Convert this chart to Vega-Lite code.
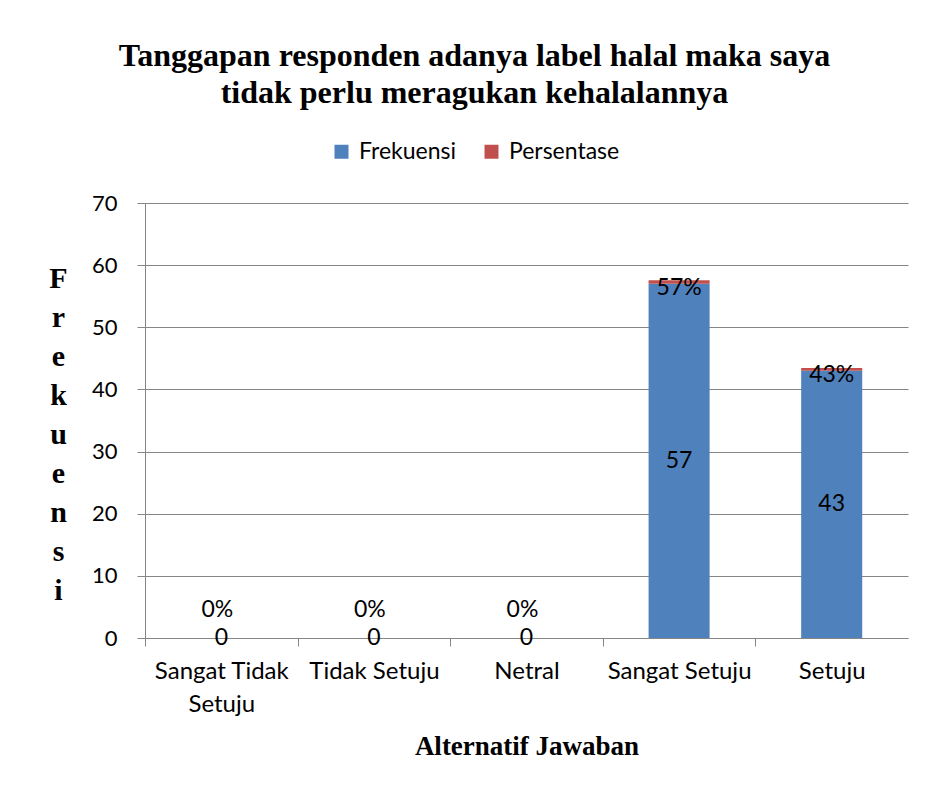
{
  "$schema": "https://vega.github.io/schema/vega-lite/v6.json",
  "width": 763,
  "height": 435,
  "autosize": {"type": "none"},
  "padding": {"left": 145, "top": 203, "right": 20, "bottom": 147},
  "background": "white",
  "title": {
    "text": ["Tanggapan responden adanya label halal maka saya", "tidak perlu meragukan kehalalannya"],
    "font": "Liberation Serif",
    "fontSize": 32,
    "fontWeight": "bold",
    "color": "black",
    "anchor": "middle",
    "frame": "group",
    "lineHeight": 37,
    "offset": 30,
    "dx": -52
  },
  "data": {
    "values": [
      {"kategori": "Sangat Tidak Setuju", "Frekuensi": 0, "Persentase": 0},
      {"kategori": "Tidak Setuju", "Frekuensi": 0, "Persentase": 0},
      {"kategori": "Netral", "Frekuensi": 0, "Persentase": 0},
      {"kategori": "Sangat Setuju", "Frekuensi": 57, "Persentase": 0.57},
      {"kategori": "Setuju", "Frekuensi": 43, "Persentase": 0.43}
    ]
  },
  "config": {
    "view": {"stroke": null},
    "font": "Lato",
    "axis": {
      "labelFont": "Lato",
      "labelFontSize": 22,
      "labelColor": "black",
      "domainColor": "#868686",
      "tickColor": "#868686",
      "gridColor": "#868686",
      "tickSize": 8
    }
  },
  "encoding": {
    "x": {
      "field": "kategori",
      "type": "nominal",
      "sort": null,
      "scale": {"paddingInner": 0.6, "paddingOuter": 0.3},
      "axis": {
        "title": "Alternatif Jawaban",
        "titleFont": "Liberation Serif",
        "titleFontSize": 27,
        "titleFontWeight": "bold",
        "titleColor": "black",
        "titleY": 108,
        "titleBaseline": "middle",
        "labelAngle": 0,
        "labelFontSize": 24,
        "ticks": true,
        "tickOffset": -76.3,
        "labelOffset": 76.3,
        "tickSize": 8,
        "tickWidth": 1,
        "tickColor": "#868686",
        "labelPadding": 13,
        "labelLineHeight": 33,
        "labelBaseline": "top",
        "labelExpr": "datum.label == 'Sangat Tidak Setuju' ? ['Sangat Tidak', 'Setuju'] : datum.label",
        "orient": "bottom"
      }
    }
  },
  "layer": [
    {
      "transform": [{"fold": ["Frekuensi", "Persentase"], "as": ["seri", "nilai"]}],
      "mark": {"type": "bar"},
      "encoding": {
        "y": {
          "field": "nilai",
          "type": "quantitative",
          "stack": "zero",
          "scale": {"domain": [0, 70]},
          "axis": {
            "title": ["F", "r", "e", "k", "u", "e", "n", "s", "i"],
            "titleFont": "Liberation Serif",
            "titleFontSize": 30,
            "titleFontWeight": "bold",
            "titleColor": "black",
            "titleAngle": 0,
            "titleAlign": "center",
            "titleBaseline": "alphabetic",
            "titleLineHeight": 39,
            "titleX": -87,
            "titleY": 84,
            "values": [0, 10, 20, 30, 40, 50, 60, 70],
            "labelPadding": 20,
            "grid": true
          }
        },
        "color": {
          "field": "seri",
          "type": "nominal",
          "scale": {"domain": ["Frekuensi", "Persentase"], "range": ["#4F81BD", "#C0504D"]},
          "legend": {
            "title": null,
            "orient": "none",
            "direction": "horizontal",
            "legendX": 185,
            "legendY": -63,
            "symbolType": "square",
            "symbolSize": 196,
            "symbolStrokeWidth": 0,
            "labelFont": "Lato",
            "labelFontSize": 23,
            "labelColor": "black",
            "labelOffset": 6,
            "columnPadding": 23
          }
        },
        "order": {"field": "seri"}
      }
    },
    {
      "mark": {"type": "text", "font": "Lato", "fontSize": 23, "color": "black", "baseline": "middle"},
      "encoding": {
        "y": {"field": "Frekuensi", "type": "quantitative", "scale": {"domain": [0, 140]}, "axis": null},
        "text": {"field": "Frekuensi", "type": "quantitative"}
      }
    },
    {
      "transform": [{"filter": "datum.Frekuensi > 0"}],
      "mark": {"type": "text", "font": "Lato", "fontSize": 23, "color": "black", "baseline": "middle", "dy": 4},
      "encoding": {
        "y": {"field": "Frekuensi", "type": "quantitative", "scale": {"domain": [0, 70]}, "axis": null},
        "text": {"field": "Persentase", "type": "quantitative", "format": ".0%"}
      }
    },
    {
      "transform": [{"filter": "datum.Frekuensi == 0"}],
      "mark": {"type": "text", "font": "Lato", "fontSize": 23, "color": "black", "baseline": "middle", "dy": -28, "dx": -4},
      "encoding": {
        "y": {"field": "Frekuensi", "type": "quantitative", "scale": {"domain": [0, 70]}, "axis": null},
        "text": {"field": "Persentase", "type": "quantitative", "format": ".0%"}
      }
    }
  ],
  "resolve": {"scale": {"y": "independent"}}
}
